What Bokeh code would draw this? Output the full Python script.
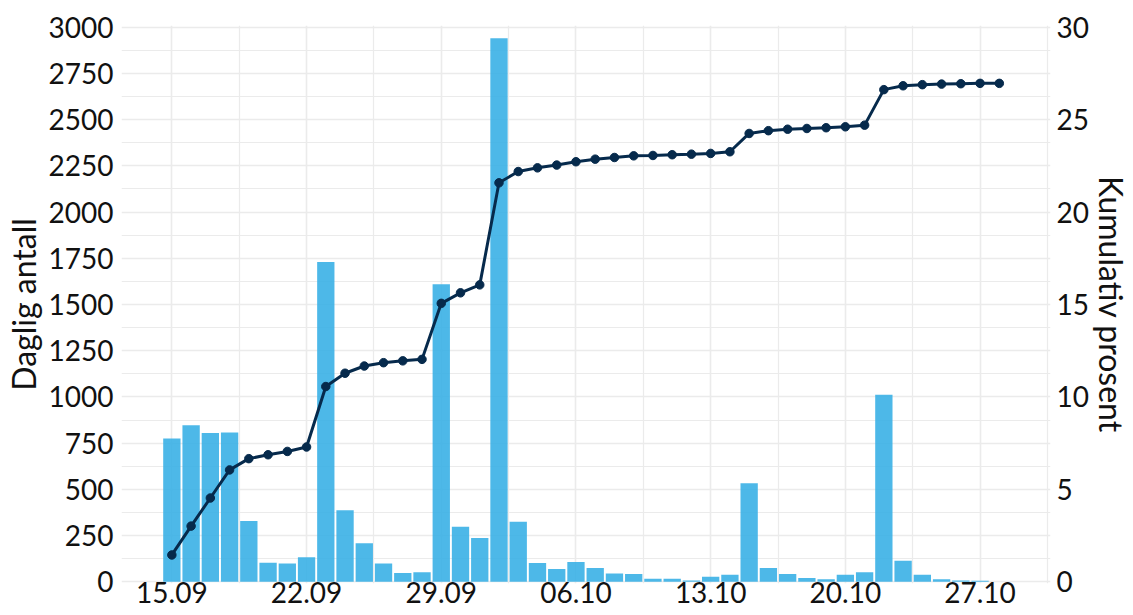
import pandas as pd
from bokeh.plotting import figure
from bokeh.models import Range1d, LinearAxis, FixedTicker, DatetimeTickFormatter, ColumnDataSource
from bokeh.embed import file_html
from bokeh.resources import INLINE

# ---- data -------------------------------------------------------------
start_date = "2021-09-15"
daily_count = [775, 846, 805, 808, 329, 103, 99, 132, 1730, 387, 208, 99, 47, 52,
               1610, 297, 237, 2940, 324, 101, 69, 107, 74, 45, 42, 16, 16, 7, 27, 38,
               533, 74, 42, 20, 13, 38, 52, 1011, 114, 38, 13, 7, 5, 0]
cum_percent = [1.45, 3.01, 4.53, 6.05, 6.66, 6.87, 7.05, 7.29, 10.56, 11.28, 11.67,
               11.85, 11.95, 12.03, 15.06, 15.63, 16.06, 21.58, 22.19, 22.39, 22.54,
               22.72, 22.86, 22.95, 23.04, 23.06, 23.10, 23.13, 23.17, 23.26, 24.25,
               24.40, 24.48, 24.52, 24.56, 24.61, 24.70, 26.62, 26.83, 26.89, 26.92,
               26.94, 26.96, 26.96]
x_tick_dates = ["2021-09-15", "2021-09-22", "2021-09-29", "2021-10-06",
                "2021-10-13", "2021-10-20", "2021-10-27"]
y_left_ticks = [0, 250, 500, 750, 1000, 1250, 1500, 1750, 2000, 2250, 2500, 2750, 3000]
y_right_ticks = [0, 5, 10, 15, 20, 25, 30]
left_title = "Daglig antall"
right_title = "Kumulativ prosent"

# ---- derived ----------------------------------------------------------
DAY = 86400000.0
dates = pd.date_range(start_date, periods=len(daily_count), freq="D")
t0 = pd.Timestamp(start_date).value / 1e6
src = ColumnDataSource(dict(date=dates, count=daily_count, pct=cum_percent))

major_x = [pd.Timestamp(d).value / 1e6 for d in x_tick_dates]
minor_x = [m - 3.5 * DAY for m in major_x] + [major_x[-1] + 3.5 * DAY]
minor_y = [v + 125 for v in y_left_ticks[:-1]]

FONT = "Lato"
TXT = "#111111"
GRID = "#EBEBEB"
NAVY = "#062A4C"

p = figure(width=1133, height=615, x_axis_type="datetime",
           output_backend="svg", toolbar_location=None,
           x_range=Range1d(t0 - 2.617 * DAY, t0 + 45.66 * DAY),
           y_range=Range1d(-9.4, 3009),
           min_border_left=118, min_border_right=74,
           min_border_top=25, min_border_bottom=32)
p.extra_y_ranges = {"pct": Range1d(-0.094, 30.09)}
p.outline_line_color = None
p.background_fill_color = "white"
p.border_fill_color = "white"

p.vbar(x="date", top="count", width=0.9 * DAY, bottom=0, source=src,
       fill_color="#3AB0E5", fill_alpha=0.9, line_color=None)
p.line(x="date", y="pct", source=src, y_range_name="pct",
       line_color=NAVY, line_width=3)
p.scatter(x="date", y="pct", source=src, y_range_name="pct",
          size=8.5, fill_color=NAVY, line_color=NAVY)

# x axis
p.xaxis.ticker = FixedTicker(ticks=major_x, minor_ticks=minor_x)
fmt = "%d.%m"
p.xaxis.formatter = DatetimeTickFormatter(days=fmt, months=fmt, years=fmt,
                                          hours=fmt, minutes=fmt, seconds=fmt,
                                          milliseconds=fmt, microseconds=fmt)
p.xaxis.major_label_standoff = -2

# left axis
p.yaxis.ticker = FixedTicker(ticks=y_left_ticks, minor_ticks=minor_y)
p.yaxis.axis_label = left_title
p.yaxis.major_label_standoff = 8
p.yaxis.axis_label_standoff = 3

# right axis
ax_r = LinearAxis(y_range_name="pct", ticker=FixedTicker(ticks=y_right_ticks),
                  axis_label=right_title)
ax_r.major_label_standoff = 6
ax_r.axis_label_standoff = 0
p.add_layout(ax_r, "right")

for ax in [p.xaxis[0], p.yaxis[0], ax_r]:
    ax.axis_line_color = None
    ax.major_tick_line_color = None
    ax.minor_tick_line_color = None
    ax.major_tick_out = 0
    ax.major_tick_in = 0
    ax.minor_tick_out = 0
    ax.minor_tick_in = 0
    ax.major_label_text_font = FONT
    ax.major_label_text_font_size = "28px"
    ax.major_label_text_color = TXT
    ax.axis_label_text_font = FONT
    ax.axis_label_text_font_size = "30px"
    ax.axis_label_text_font_style = "normal"
    ax.axis_label_text_color = TXT

p.yaxis.axis_label_text_font_size = "32px"

for g in [p.xgrid[0], p.ygrid[0]]:
    g.grid_line_color = GRID
    g.grid_line_width = 1.6
    g.minor_grid_line_color = GRID
    g.minor_grid_line_width = 1.2

open("out.html", "w").write(file_html(p, INLINE))
